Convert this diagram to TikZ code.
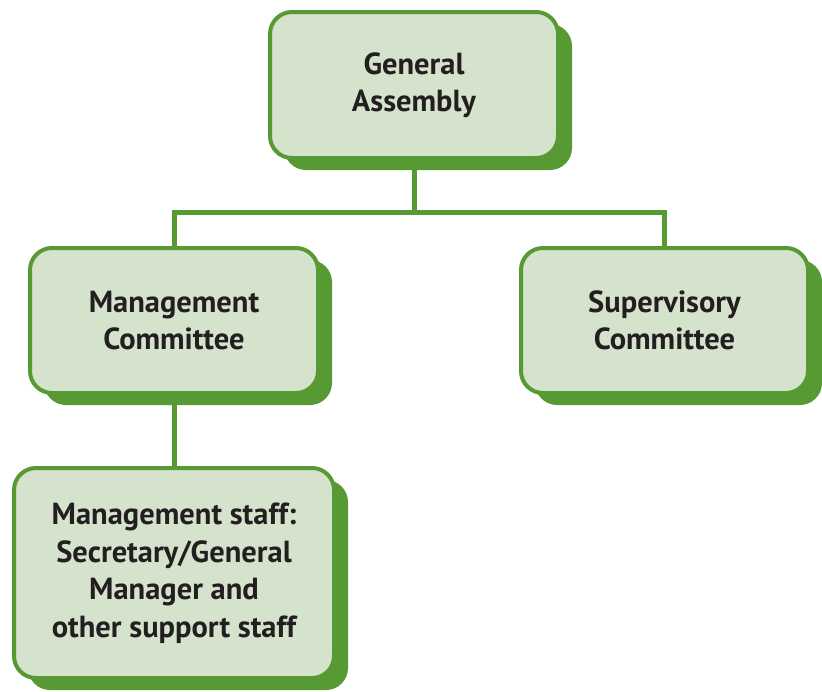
\documentclass[tikz,border=0pt]{standalone}
\usepackage{fontspec}
\setmainfont{PT Sans}
\usetikzlibrary{shadows}
\definecolor{boxgreen}{HTML}{579933}
\definecolor{boxfill}{HTML}{D6E3CC}
\definecolor{ink}{HTML}{231F20}
\tikzset{
  orgbox/.style={draw=boxgreen, line width=4pt, fill=boxfill, rounded corners=22pt,
    align=center, text=ink, font=\fontsize{30.5}{37.5}\selectfont\bfseries,
    general shadow={fill=boxgreen, shadow xshift=14pt, shadow yshift=-12pt}},
  link/.style={draw=boxgreen, line width=5pt}
}
\begin{document}
\begin{tikzpicture}[x=1pt,y=-1pt]
\useasboundingbox (0,0) rectangle (822,691);
\node[orgbox, minimum width=288pt, minimum height=146pt] (ga) at (414,85) {General\\Assembly};
\node[orgbox, minimum width=288pt, minimum height=145pt] (mc) at (174,320.5) {Management\\Committee};
\node[orgbox, minimum width=287pt, minimum height=145pt] (sc) at (664.5,320.5) {Supervisory\\Committee};
\node[orgbox, minimum width=320pt, minimum height=210pt] (st) at (174,573) {Management staff:\\Secretary/General\\Manager and\\other support staff};
\coordinate (bar) at (414,212);
\draw[link] (ga.south) -- (bar);
\draw[link] (bar) -| (mc.north);
\draw[link] (bar) -| (sc.north);
\draw[link] (mc.south) -- (st.north);
\end{tikzpicture}
\end{document}
